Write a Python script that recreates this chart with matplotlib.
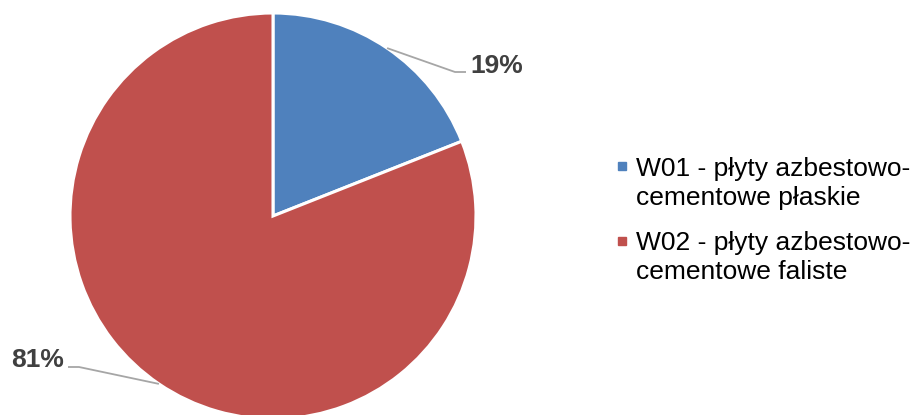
import numpy as np
import matplotlib.pyplot as plt
from matplotlib.patches import Rectangle

#=============================================================================
# udział rodzajów wyrobów azbestowych
labels  = ['W01 - płyty azbestowo-\ncementowe płaskie',
           'W02 - płyty azbestowo-\ncementowe faliste']
shares  = [19, 81]
colors  = ['#4F81BD', '#C0504D']

_W, _H  = 916, 415
_CX, _CY, _R = 273, _H - 216, 203

plt.rcParams['font.family'] = ['Liberation Sans', 'DejaVu Sans']

fig = plt.figure(figsize=(_W/100.0, _H/100.0), dpi=100)
ax  = fig.add_axes([0, 0, 1, 1])
ax.set_xlim(0, _W)
ax.set_ylim(0, _H)
ax.set_aspect('equal')
ax.axis('off')

wedges, _ = ax.pie(shares, colors=colors, startangle=90, counterclock=False,
                   center=(_CX, _CY), radius=_R,
                   wedgeprops=dict(edgecolor='white', linewidth=2.2))
ax.set_xlim(0, _W)
ax.set_ylim(0, _H)

#-----------------------------------------------------------------------------
# etykiety procentowe z liniami odniesienia
elbows = [((455, 72), (466, 72), (470, 73), 'left'),
          ((79, 367), (68, 367), (64, 367), 'right')]
for w, s, (e1, e2, tp, ha) in zip(wedges, shares, elbows):
    ang = np.deg2rad((w.theta1 + w.theta2) / 2.0)
    px  = _CX + _R * np.cos(ang)
    py  = _CY + _R * np.sin(ang)
    ax.plot([px, e1[0], e2[0]], [py, _H - e1[1], _H - e2[1]],
            color='#A6A6A6', lw=1.3, solid_capstyle='butt')
    ax.text(tp[0], _H - tp[1], '%d%%' % s, ha=ha, va='baseline',
            fontsize=19, fontweight='bold', color='#404040')

#-----------------------------------------------------------------------------
# legenda
for i, (lab, c) in enumerate(zip(labels, colors)):
    y0 = 176 + i * 74
    sq = 162 + i * 75
    fig.patches.append(Rectangle((618.0/_W, 1 - (sq + 8.0)/_H), 8.0/_W, 8.0/_H,
                                 transform=fig.transFigure, color=c))
    for j, line in enumerate(lab.split('\n')):
        fig.text(636.0/_W, 1 - (y0 + j * 29.0)/_H, line, ha='left',
                 va='baseline', fontsize=19, color='#000000')

plt.savefig('out.png', dpi=100)
